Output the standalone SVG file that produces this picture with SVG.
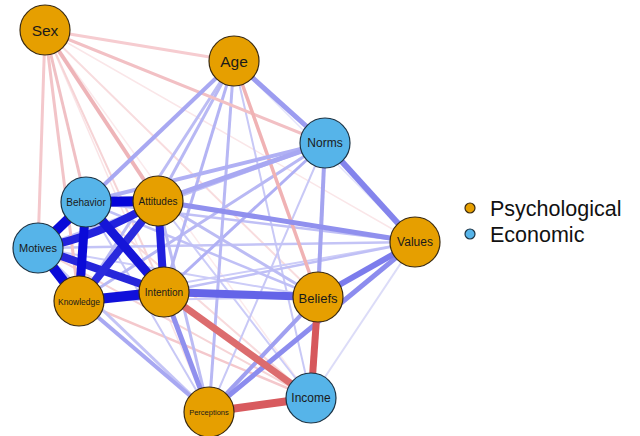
<svg xmlns="http://www.w3.org/2000/svg" width="640" height="436" viewBox="0 0 640 436">
<style>
.bg{fill:#ffffff}
.e{fill:none;stroke-linecap:butt}
.psy{fill:#E69F00;stroke:#3a2a10;stroke-width:1.2}
.eco{fill:#56B4E9;stroke:#1c3344;stroke-width:1.2}
.lbl{font-family:"Liberation Sans",Arial,sans-serif;fill:#1a1a1a;text-anchor:middle;dominant-baseline:central}
.leg{font-family:"Liberation Sans",Arial,sans-serif;fill:#111;font-size:21.5px}
</style>
<rect class="bg" x="0" y="0" width="640" height="436"/>
<g id="connectors">
  <line class="e" x1="45" y1="30" x2="415" y2="242" stroke="#FAE6E8" stroke-width="1.5"/>
  <line class="e" x1="45" y1="30" x2="209" y2="412" stroke="#FAE4E6" stroke-width="1.5"/>
  <line class="e" x1="45" y1="30" x2="311" y2="398" stroke="#FBEAEC" stroke-width="1.5"/>
  <line class="e" x1="45" y1="30" x2="318" y2="297" stroke="#F8DCDE" stroke-width="2"/>
  <line class="e" x1="45" y1="30" x2="164" y2="292" stroke="#F6D4D6" stroke-width="2"/>
  <line class="e" x1="234" y1="61" x2="415" y2="242" stroke="#E4E4FA" stroke-width="1.5"/>
  <line class="e" x1="415" y1="242" x2="311" y2="398" stroke="#DCDCF8" stroke-width="2"/>
  <line class="e" x1="325" y1="143" x2="311" y2="398" stroke="#D4D4F8" stroke-width="2"/>
  <line class="e" x1="86" y1="202" x2="311" y2="398" stroke="#F8DADC" stroke-width="2"/>
  <line class="e" x1="38" y1="248" x2="311" y2="398" stroke="#F6D4D6" stroke-width="2"/>
  <line class="e" x1="79" y1="301" x2="311" y2="398" stroke="#F4C8CC" stroke-width="2.5"/>
  <line class="e" x1="158" y1="201" x2="311" y2="398" stroke="#CCCCF8" stroke-width="2"/>
  <line class="e" x1="234" y1="61" x2="311" y2="398" stroke="#C8C8F6" stroke-width="2"/>
  <line class="e" x1="234" y1="61" x2="38" y2="248" stroke="#D0D0F8" stroke-width="2"/>
  <line class="e" x1="38" y1="248" x2="318" y2="297" stroke="#CCCCF8" stroke-width="2"/>
  <line class="e" x1="79" y1="301" x2="318" y2="297" stroke="#CCCCF8" stroke-width="2"/>
  <line class="e" x1="79" y1="301" x2="415" y2="242" stroke="#CCCCF8" stroke-width="2"/>
  <line class="e" x1="86" y1="202" x2="209" y2="412" stroke="#C8C8F6" stroke-width="2"/>
  <line class="e" x1="38" y1="248" x2="209" y2="412" stroke="#C4C4F6" stroke-width="3"/>
  <line class="e" x1="325" y1="143" x2="209" y2="412" stroke="#C8C8F6" stroke-width="2"/>
  <line class="e" x1="38" y1="248" x2="415" y2="242" stroke="#C4C4F6" stroke-width="2.5"/>
  <line class="e" x1="86" y1="202" x2="415" y2="242" stroke="#C0C0F6" stroke-width="2.5"/>
  <line class="e" x1="164" y1="292" x2="415" y2="242" stroke="#C0C0F6" stroke-width="2.5"/>
  <line class="e" x1="86" y1="202" x2="318" y2="297" stroke="#C0C0F6" stroke-width="2.5"/>
  <line class="e" x1="158" y1="201" x2="318" y2="297" stroke="#BCBCF4" stroke-width="3"/>
  <line class="e" x1="158" y1="201" x2="209" y2="412" stroke="#BCBCF4" stroke-width="3"/>
  <line class="e" x1="325" y1="143" x2="38" y2="248" stroke="#C0C0F6" stroke-width="3"/>
  <line class="e" x1="325" y1="143" x2="79" y2="301" stroke="#B8B8F4" stroke-width="3"/>
  <line class="e" x1="325" y1="143" x2="164" y2="292" stroke="#B0B0F4" stroke-width="3"/>
  <line class="e" x1="234" y1="61" x2="79" y2="301" stroke="#BCBCF4" stroke-width="3"/>
  <line class="e" x1="234" y1="61" x2="164" y2="292" stroke="#B4B4F4" stroke-width="3"/>
  <line class="e" x1="234" y1="61" x2="158" y2="201" stroke="#B8B8F4" stroke-width="3"/>
  <line class="e" x1="234" y1="61" x2="209" y2="412" stroke="#B8B8F4" stroke-width="3"/>
  <line class="e" x1="45" y1="30" x2="234" y2="61" stroke="#F6CCD0" stroke-width="3"/>
  <line class="e" x1="45" y1="30" x2="325" y2="143" stroke="#F2C0C4" stroke-width="3"/>
  <line class="e" x1="45" y1="30" x2="38" y2="248" stroke="#F4C8CC" stroke-width="3"/>
  <line class="e" x1="45" y1="30" x2="79" y2="301" stroke="#F2C4C8" stroke-width="3"/>
  <line class="e" x1="45" y1="30" x2="86" y2="202" stroke="#F0C0C4" stroke-width="3"/>
  <line class="e" x1="45" y1="30" x2="158" y2="201" stroke="#EEB4B8" stroke-width="4"/>
  <line class="e" x1="234" y1="61" x2="318" y2="297" stroke="#F0B2B4" stroke-width="3.5"/>
  <line class="e" x1="234" y1="61" x2="86" y2="202" stroke="#A8A8F2" stroke-width="4"/>
  <line class="e" x1="325" y1="143" x2="86" y2="202" stroke="#B0B0F4" stroke-width="4"/>
  <line class="e" x1="325" y1="143" x2="158" y2="201" stroke="#A8A8F2" stroke-width="5"/>
  <line class="e" x1="325" y1="143" x2="318" y2="297" stroke="#A4A4F0" stroke-width="4"/>
  <line class="e" x1="79" y1="301" x2="209" y2="412" stroke="#A8A8F2" stroke-width="4"/>
  <line class="e" x1="164" y1="292" x2="209" y2="412" stroke="#9090EE" stroke-width="5"/>
  <line class="e" x1="318" y1="297" x2="209" y2="412" stroke="#A0A0F0" stroke-width="4"/>
  <line class="e" x1="415" y1="242" x2="209" y2="412" stroke="#8C8CEE" stroke-width="5"/>
  <line class="e" x1="158" y1="201" x2="415" y2="242" stroke="#9090EE" stroke-width="5"/>
  <line class="e" x1="234" y1="61" x2="325" y2="143" stroke="#9C9CF0" stroke-width="5"/>
  <line class="e" x1="325" y1="143" x2="415" y2="242" stroke="#8484EC" stroke-width="6"/>
  <line class="e" x1="318" y1="297" x2="415" y2="242" stroke="#7C7CEC" stroke-width="6"/>
  <line class="e" x1="164" y1="292" x2="318" y2="297" stroke="#6464E8" stroke-width="8"/>
  <line class="e" x1="164" y1="292" x2="311" y2="398" stroke="#DC6C6E" stroke-width="7"/>
  <line class="e" x1="318" y1="297" x2="311" y2="398" stroke="#D6585C" stroke-width="7"/>
  <line class="e" x1="209" y1="412" x2="311" y2="398" stroke="#D85A5E" stroke-width="8"/>
  <path class="e" d="M38,248 Q96,238 158,201" stroke="#2222DD" stroke-width="8"/>
  <line class="e" x1="38" y1="248" x2="164" y2="292" stroke="#2626DA" stroke-width="8"/>
  <line class="e" x1="79" y1="301" x2="158" y2="201" stroke="#2A2ADD" stroke-width="8"/>
  <line class="e" x1="86" y1="202" x2="164" y2="292" stroke="#1515D8" stroke-width="9"/>
  <line class="e" x1="158" y1="201" x2="164" y2="292" stroke="#2020DD" stroke-width="8"/>
  <line class="e" x1="86" y1="202" x2="79" y2="301" stroke="#0A0AD8" stroke-width="9"/>
  <line class="e" x1="86" y1="202" x2="38" y2="248" stroke="#0A0AD8" stroke-width="10"/>
  <line class="e" x1="38" y1="248" x2="79" y2="301" stroke="#0A0AD8" stroke-width="10"/>
  <line class="e" x1="79" y1="301" x2="164" y2="292" stroke="#1010DA" stroke-width="10"/>
  <line class="e" x1="86" y1="202" x2="158" y2="201" stroke="#0505D8" stroke-width="10"/>
</g>
<g id="node-sex"><circle class="psy" cx="45" cy="30" r="25"/><text class="lbl" x="45" y="30" font-size="15.5">Sex</text></g>
<g id="node-age"><circle class="psy" cx="234" cy="61" r="25"/><text class="lbl" x="234" y="61" font-size="15.5">Age</text></g>
<g id="node-norms"><circle class="eco" cx="325" cy="143" r="25"/><text class="lbl" x="325" y="143" font-size="12">Norms</text></g>
<g id="node-values"><circle class="psy" cx="415" cy="242" r="25"/><text class="lbl" x="415" y="242" font-size="12">Values</text></g>
<g id="node-behavior"><circle class="eco" cx="86" cy="202" r="25"/><text class="lbl" x="86" y="202" font-size="10">Behavior</text></g>
<g id="node-attitudes"><circle class="psy" cx="158" cy="201" r="25"/><text class="lbl" x="158" y="201" font-size="10">Attitudes</text></g>
<g id="node-motives"><circle class="eco" cx="38" cy="248" r="25"/><text class="lbl" x="38" y="248" font-size="11">Motives</text></g>
<g id="node-knowledge"><circle class="psy" cx="79" cy="301" r="25"/><text class="lbl" x="79" y="302" font-size="8.5">Knowledge</text></g>
<g id="node-intention"><circle class="psy" cx="164" cy="292" r="25"/><text class="lbl" x="164" y="292" font-size="10">Intention</text></g>
<g id="node-beliefs"><circle class="psy" cx="318" cy="297" r="25"/><text class="lbl" x="318" y="298" font-size="13">Beliefs</text></g>
<g id="node-income"><circle class="eco" cx="311" cy="398" r="25"/><text class="lbl" x="311" y="398" font-size="12">Income</text></g>
<g id="node-perceptions"><circle class="psy" cx="209" cy="412" r="25"/><text class="lbl" x="209" y="412" font-size="7.5">Perceptions</text></g>
<g id="legend">
  <circle class="psy" cx="470" cy="208" r="5"/>
  <text class="leg" x="490" y="216">Psychological</text>
  <circle class="eco" cx="470" cy="234" r="5"/>
  <text class="leg" x="490" y="242">Economic</text>
</g>
</svg>
